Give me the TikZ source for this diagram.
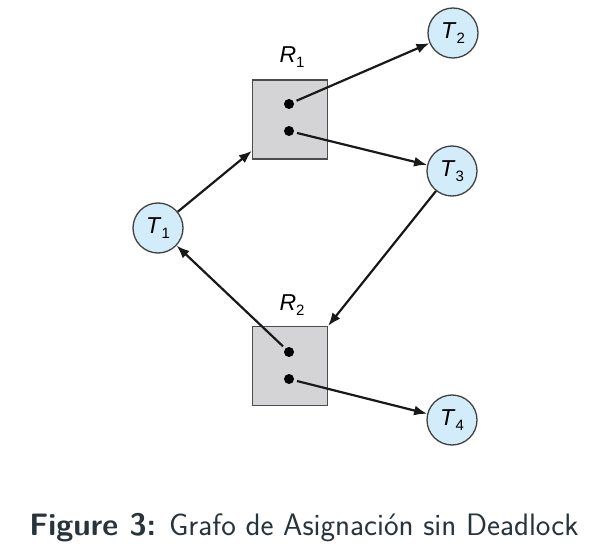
\documentclass[tikz,border=0pt]{standalone}
\usepackage{fontspec}
\newfontfamily\helv{Liberation Sans}
\usetikzlibrary{arrows.meta}

\definecolor{procfill}{HTML}{D3ECF9}
\definecolor{resfill}{HTML}{D4D4D6}
\definecolor{captext}{HTML}{27343C}

\newcommand{\pname}[2]{\textit{#1}\raisebox{-0.45ex}{\fontsize{15}{15}\selectfont #2}}

\tikzset{
  proc/.style={circle, draw=black!75, line width=1.3pt, fill=procfill,
    minimum size=50pt, inner sep=0pt, font=\helv\fontsize{23}{23}\selectfont},
  res/.style={rectangle, draw=black!70, line width=1.3pt, fill=resfill,
    minimum width=75pt, minimum height=79pt},
  inst/.style={circle, fill=black, minimum size=10pt, inner sep=0pt},
  edge/.style={-{Latex[length=13pt,width=10pt]}, line width=2.2pt, black!90},
}

\begin{document}
\begin{tikzpicture}[x=1pt, y=-1pt]
  \useasboundingbox[fill=white] (0,0) rectangle (608,556);

  % resources
  \node[res] (r1) at (290,119.5) {};
  \node[res] (r2) at (290,366) {};
  \node[font=\helv\fontsize{23}{23}\selectfont] (r1lab) at (292,57) {\pname{R}{1}};
  \node[font=\helv\fontsize{23}{23}\selectfont] (r2lab) at (292,305) {\pname{R}{2}};
  \node[inst] (r1a) at (289,104) {};
  \node[inst] (r1b) at (289,131) {};
  \node[inst] (r2a) at (289,352) {};
  \node[inst] (r2b) at (289,379) {};

  % processes
  \node[proc] (t1) at (158,228) {\pname{T}{1}};
  \node[proc] (t2) at (453,33) {\pname{T}{2}};
  \node[proc] (t3) at (452,171) {\pname{T}{3}};
  \node[proc] (t4) at (452,420) {\pname{T}{4}};

  % edges
  \draw[edge] (t1) -- (r1);
  \draw[edge, shorten <=3pt] (r1a) -- (t2);
  \draw[edge, shorten <=3pt] (r1b) -- (t3);
  \draw[edge] (t3) -- (r2.north east);
  \draw[edge, shorten <=3pt] (r2a) -- (t1);
  \draw[edge, shorten <=3pt] (r2b) -- (t4);

  \node[text=captext, font=\sffamily\fontsize{31}{37}\selectfont] (cap) at (304,528)
    {\textbf{Figure 3:} Grafo de Asignación sin Deadlock};
\end{tikzpicture}
\end{document}
